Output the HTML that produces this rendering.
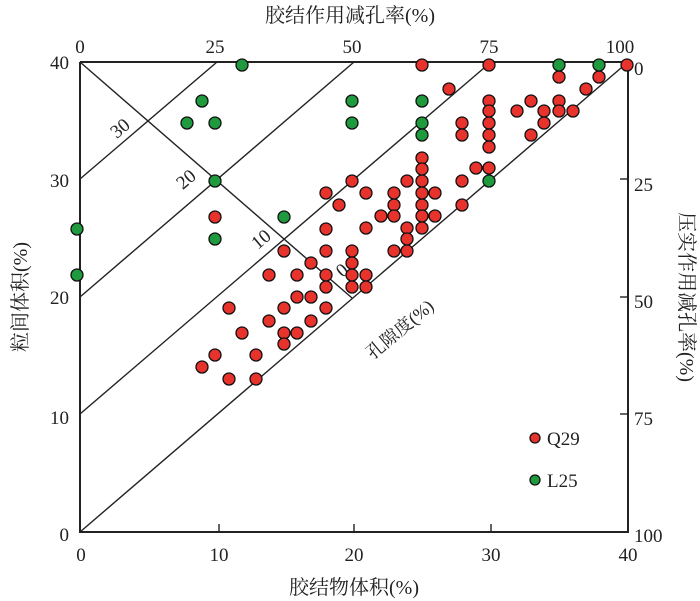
<!DOCTYPE html>
<html><head><meta charset="utf-8"><style>
html,body{margin:0;padding:0;background:#fff;}
svg{display:block;font-family:"Liberation Serif","Noto Serif CJK SC",serif;}
</style></head><body>
<svg width="700" height="601" viewBox="0 0 700 601" xmlns="http://www.w3.org/2000/svg">
<g stroke="#222" fill="none">
<path d="M80,62 V532 H628 V62 H80" stroke-width="2"/>
<g stroke-width="1.4">
<line x1="80" y1="532" x2="628" y2="62"/>
<line x1="80" y1="414" x2="491" y2="62"/>
<line x1="80" y1="297" x2="354" y2="62"/>
<line x1="80" y1="179" x2="217" y2="62"/>
<line x1="80" y1="62" x2="352" y2="298"/>
</g>
<g stroke-width="1.4">
<line x1="219" y1="532" x2="219" y2="524"/><line x1="354" y1="532" x2="354" y2="524"/><line x1="491" y1="532" x2="491" y2="524"/>
<line x1="628" y1="179" x2="620" y2="179"/><line x1="628" y1="297" x2="620" y2="297"/><line x1="628" y1="414" x2="620" y2="414"/>
</g>
</g>
<g font-size="19" fill="#222">
<g text-anchor="end"><text x="69" y="69">40</text><text x="69" y="187">30</text><text x="69" y="304">20</text><text x="69" y="424">10</text><text x="69" y="541">0</text></g>
<g text-anchor="middle"><text x="81" y="561">0</text><text x="219" y="561">10</text><text x="354" y="561">20</text><text x="491" y="561">30</text><text x="628" y="561">40</text>
<text x="80" y="53">0</text><text x="215" y="53">25</text><text x="352" y="53">50</text><text x="489" y="53">75</text><text x="620" y="53">100</text></g>
<g><text x="634" y="75">0</text><text x="634" y="191">25</text><text x="634" y="308">50</text><text x="634" y="425">75</text><text x="634" y="542">100</text></g>
<text transform="translate(124,133) rotate(-40)" text-anchor="middle">30</text>
<text transform="translate(190,184) rotate(-40)" text-anchor="middle">20</text>
<text transform="translate(265,244) rotate(-40)" text-anchor="middle">10</text>
<text transform="translate(346,275) rotate(-40)" text-anchor="middle">0</text>
<text transform="translate(404,334) rotate(-40)" text-anchor="middle" font-size="18">孔隙度(%)</text>
<text x="350" y="22" text-anchor="middle" font-size="20">胶结作用减孔率(%)</text>
<text x="354" y="594" text-anchor="middle" font-size="20">胶结物体积(%)</text>
<text transform="translate(27,297) rotate(-90)" text-anchor="middle" font-size="20">粒间体积(%)</text>
<text transform="translate(680,297) rotate(90)" text-anchor="middle" font-size="20">压实作用减孔率(%)</text>
<text x="547" y="445" font-size="19">Q29</text>
<text x="547" y="487" font-size="19">L25</text>
</g>
<g fill="#e8322c" stroke="#111" stroke-width="1.3">
<circle cx="535" cy="438" r="5"/>
<circle cx="352" cy="181" r="6"/><circle cx="326" cy="193" r="6"/><circle cx="339" cy="205" r="6"/><circle cx="215" cy="217" r="6"/><circle cx="326" cy="229" r="6"/><circle cx="284" cy="251" r="6"/><circle cx="326" cy="251" r="6"/><circle cx="352" cy="251" r="6"/><circle cx="311" cy="263" r="6"/><circle cx="352" cy="263" r="6"/><circle cx="269" cy="275" r="6"/><circle cx="297" cy="275" r="6"/><circle cx="326" cy="275" r="6"/><circle cx="352" cy="275" r="6"/><circle cx="326" cy="287" r="6"/><circle cx="352" cy="287" r="6"/><circle cx="297" cy="297" r="6"/><circle cx="311" cy="297" r="6"/><circle cx="229" cy="308" r="6"/><circle cx="284" cy="308" r="6"/><circle cx="326" cy="308" r="6"/><circle cx="269" cy="321" r="6"/><circle cx="311" cy="321" r="6"/><circle cx="242" cy="333" r="6"/><circle cx="284" cy="333" r="6"/><circle cx="297" cy="333" r="6"/><circle cx="284" cy="344" r="6"/><circle cx="215" cy="355" r="6"/><circle cx="256" cy="355" r="6"/><circle cx="202" cy="367" r="6"/><circle cx="229" cy="379" r="6"/><circle cx="256" cy="379" r="6"/>
<circle cx="422" cy="65" r="6"/><circle cx="489" cy="65" r="6"/><circle cx="627" cy="65" r="6"/><circle cx="559" cy="77" r="6"/><circle cx="599" cy="77" r="6"/><circle cx="449" cy="89" r="6"/><circle cx="586" cy="89" r="6"/><circle cx="489" cy="101" r="6"/><circle cx="531" cy="101" r="6"/><circle cx="559" cy="101" r="6"/><circle cx="489" cy="111" r="6"/><circle cx="517" cy="111" r="6"/><circle cx="544" cy="111" r="6"/><circle cx="559" cy="111" r="6"/><circle cx="573" cy="111" r="6"/><circle cx="462" cy="123" r="6"/><circle cx="489" cy="123" r="6"/><circle cx="544" cy="123" r="6"/><circle cx="462" cy="135" r="6"/><circle cx="489" cy="135" r="6"/><circle cx="531" cy="135" r="6"/><circle cx="489" cy="147" r="6"/><circle cx="422" cy="158" r="6"/><circle cx="422" cy="169" r="6"/><circle cx="476" cy="168" r="6"/><circle cx="489" cy="168" r="6"/><circle cx="407" cy="181" r="6"/><circle cx="422" cy="181" r="6"/><circle cx="462" cy="181" r="6"/><circle cx="366" cy="193" r="6"/><circle cx="394" cy="193" r="6"/><circle cx="422" cy="193" r="6"/><circle cx="435" cy="193" r="6"/><circle cx="394" cy="205" r="6"/><circle cx="422" cy="205" r="6"/><circle cx="462" cy="205" r="6"/><circle cx="381" cy="216" r="6"/><circle cx="394" cy="216" r="6"/><circle cx="422" cy="216" r="6"/><circle cx="435" cy="216" r="6"/><circle cx="366" cy="228" r="6"/><circle cx="407" cy="228" r="6"/><circle cx="422" cy="228" r="6"/><circle cx="407" cy="239" r="6"/><circle cx="394" cy="251" r="6"/><circle cx="407" cy="251" r="6"/><circle cx="366" cy="275" r="6"/><circle cx="366" cy="287" r="6"/>
</g>
<g fill="#1f9a3e" stroke="#111" stroke-width="1.3">
<circle cx="535" cy="480" r="5"/>
<circle cx="242" cy="65" r="6"/><circle cx="202" cy="101" r="6"/><circle cx="187" cy="123" r="6"/><circle cx="215" cy="123" r="6"/><circle cx="352" cy="101" r="6"/><circle cx="352" cy="123" r="6"/><circle cx="215" cy="181" r="6"/><circle cx="284" cy="217" r="6"/><circle cx="215" cy="239" r="6"/><circle cx="77" cy="229" r="6"/><circle cx="77" cy="275" r="6"/>
<circle cx="559" cy="65" r="6"/><circle cx="599" cy="65" r="6"/><circle cx="422" cy="101" r="6"/><circle cx="422" cy="123" r="6"/><circle cx="422" cy="135" r="6"/><circle cx="489" cy="181" r="6"/>
</g>
</svg>
</body></html>
